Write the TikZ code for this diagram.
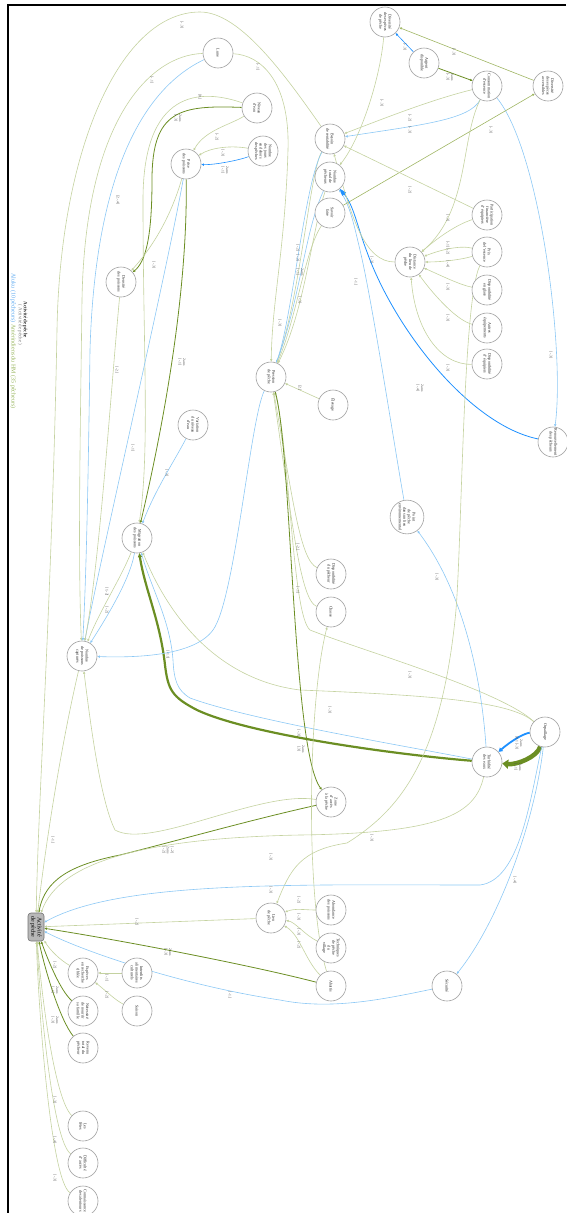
\documentclass[tikz,border=0pt]{standalone}
\usepackage{fontspec}
\setmainfont{Liberation Serif}
\usetikzlibrary{arrows.meta}
\definecolor{lgreen}{RGB}{196,210,160}
\definecolor{mgreen}{RGB}{160,182,100}
\definecolor{dgreen}{RGB}{107,142,35}
\definecolor{lblue}{RGB}{140,200,245}
\definecolor{bblue}{RGB}{30,144,255}
\definecolor{ndgray}{RGB}{160,160,160}
\definecolor{legblue}{RGB}{95,170,240}
\definecolor{leggreen}{RGB}{150,180,90}
\pgfdeclarelayer{bg}
\pgfsetlayers{bg,main}
\tikzset{
 nd/.style={circle,draw=ndgray,line width=0.6pt,fill=white,minimum size=30pt,inner sep=0.6pt,align=center,rotate=-90,font=\fontsize{4.1}{4.6}\selectfont,text=black!85},
 lbl/.style={rotate=-90,font=\fontsize{3.7}{4.1}\selectfont,text=black!70,align=center,inner sep=0pt},
 arr/.style={-{Triangle[length=2.6pt,width=2.2pt]}},
 lg/.style={arr,draw=lgreen,line width=0.6pt},
 mg/.style={arr,draw=mgreen,line width=0.6pt},
 dg/.style={arr,draw=dgreen,line width=0.8pt},
 lb/.style={arr,draw=lblue,line width=0.6pt},
 bb/.style={arr,draw=bblue,line width=0.8pt},
}
\begin{document}
\begin{tikzpicture}[x=1pt,y=-1pt]
\useasboundingbox (0,0) rectangle (566,1213);
\draw[line width=1.3pt] (566,5) -- (8,5) -- (8,1213);
% legend
\node[rotate=-90,font=\fontsize{5}{6}\selectfont\bfseries,text=black!80,inner sep=0pt] (lg1) at (25,320) {Activité de pêche};
\node[rotate=-90,font=\fontsize{5}{6}\selectfont,text=black!50,inner sep=0pt] (lg2) at (20,325) {( Activité de pêche )};
\node[rotate=-90,font=\fontsize{6}{7}\selectfont,inner sep=0pt] (lg3) at (13,341) {\textcolor{legblue}{Aluku (10 pêcheurs)}\ \textcolor{leggreen}{Amérindiens du HM (35 pêcheurs)}};
% nodes
\node[nd] (lune) at (218,53) {Lune};
\node[nd] (niveau) at (257,108) {Niveau\\d'eau};
\node[nd] (jours) at (263,151) {Nombre\\des jours\\en dehors\\des pêches};
\node[nd] (prise) at (186,164) {Prise\\des poissons};
\node[nd] (densite) at (121,282) {Densité\\des poissons};
\node[nd] (pression) at (271,377) {Pression\\de pêche};
\node[nd] (variation) at (193,425) {Variation\\du niveau\\d'eau};
\node[nd] (migration) at (137,538) {Migration\\des poissons};
\node[nd] (capt) at (82,656) {Nombre\\de poissons\\capturés};
\node[nd] (divpeche) at (385,22) {Diversité\\des espèces\\de pêche};
\node[nd] (argent) at (424,63) {Argent\\disponible};
\node[nd] (conso) at (487,86) {Consommation\\d'essence};
\node[nd] (divacc) at (548,86) {Diversité\\des espèces\\accessibles};
\node[nd] (besoin) at (330,139) {Besoin\\de rentabilité};
\node[nd] (total) at (330,177) {Nombre\\total de\\pêcheurs};
\node[nd] (savoir) at (330,213) {Savoir\\faire};
\node[nd] (partic) at (487,215) {Participation\\financière\\d'équipiers};
\node[nd] (prix) at (487,252) {Prix\\de l'essence};
\node[nd] (distance) at (410,262) {Distance\\du lieu de\\pêche};
\node[nd] (glace) at (487,290) {Disponibilité\\en glace};
\node[nd] (autres) at (487,328) {Autres\\équipements};
\node[nd] (dispequip) at (487,364) {Disponibilité\\d'équipiers};
\node[nd] (elevage) at (333,405) {Élevage};
\node[nd] (renouv) at (553,442) {Renouvellement\\des pêcheurs};
\node[nd] (point) at (407,517) {Point\\de pêche\\dans un lieu\\environnemental};
\node[nd] (dispo) at (331,574) {Disponibilité\\du pêcheur};
\node[nd] (chasse) at (331,612) {Chasse};
\node[nd] (orpa) at (545,732) {Orpaillage};
\node[nd] (turb) at (487,762) {Turbidité\\des eaux};
\node[nd] (zone) at (331,802) {Zone\\d'accès\\à la pêche};
\node[rotate=-90,rounded corners=3pt,draw=black!55,fill=black!28,line width=0.6pt,minimum width=28pt,minimum height=16pt,inner sep=0.5pt,align=center,font=\fontsize{6}{6.2}\selectfont] (act) at (36,927) {Activité\\de pêche};
\node[nd] (lieu) at (271,918) {Lieu\\de pêche};
\node[nd] (especes) at (83,973) {Espèces\\en recherche\\ciblée};
\node[nd] (interdits) at (137,973) {Interdits\\alimentaires\\culturels};
\node[nd] (saison) at (137,1011) {Saison};
\node[nd] (necess) at (83,1011) {Nécessité\\de nourrir\\sa famille};
\node[nd] (revenu) at (83,1048) {Revenu\\total du\\pêcheur};
\node[nd] (fetes) at (83,1126) {Les\\fêtes};
\node[nd] (diffic) at (83,1163) {Difficulté\\d'accès};
\node[nd] (connais) at (83,1201) {Connaissance\\des alentours};
\node[nd] (abond) at (331,910) {Abondance\\des poissons};
\node[nd] (tech) at (331,948) {Techniques\\de pêche\\du\\village};
\node[nd] (abattis) at (331,986) {Abattis};
\node[nd] (secur) at (447,986) {Sécurité};
% edges
\begin{pgfonlayer}{bg}
\draw[lg] (besoin) .. controls (285,75) and (240,12) .. (200,12) .. controls (120,12) and (60,150) .. (57,330) .. controls (52,600) and (38,800) .. (act);
\draw[lg] (lune) .. controls (150,55) and (85,120) .. (82,300) .. controls (80,450) and (78,560) .. (capt);
\draw[lb] (lune) .. controls (140,90) and (95,180) .. (90,350) .. controls (88,500) and (86,580) .. (capt);
\draw[lg] (lune) .. controls (260,55) and (290,80) .. (288,150) .. controls (285,250) and (272,300) .. (pression);
\draw[lg] (niveau) .. controls (200,88) and (143,90) .. (143,200) .. controls (143,350) and (150,450) .. (migration);
\draw[dg] (niveau) .. controls (180,105) and (152,110) .. (152,180) .. controls (152,240) and (145,262) .. (densite);
\draw[lg] (niveau) .. controls (230,125) and (205,130) .. (prise);
\draw[lg] (jours) .. controls (230,145) and (210,148) .. (prise);
\draw[bb,line width=0.6pt] (jours) .. controls (240,160) and (215,165) .. (prise);
\draw[lg] (prise) .. controls (170,220) and (150,250) .. (densite);
\draw[dg] (prise) .. controls (188,300) and (160,440) .. (migration);
\draw[lb] (prise) .. controls (165,280) and (100,560) .. (capt);
\draw[lg] (densite) .. controls (110,400) and (100,560) .. (capt);
\draw[lb] (variation) .. controls (175,460) and (155,490) .. (migration);
\draw[lg] (migration) .. controls (120,580) and (100,610) .. (capt);
\draw[lb] (migration) .. controls (130,580) and (105,620) .. (capt);
\draw[dg,line width=2.2pt,-{Triangle[length=4pt,width=4pt]}] (turb) .. controls (400,755) and (250,735) .. (197,710) .. controls (172,697) and (168,690) .. (165,665) .. controls (160,620) and (145,590) .. (migration);
\draw[lb] (turb) .. controls (400,745) and (250,720) .. (190,698) .. controls (177,690) and (174,680) .. (173,660) .. controls (170,620) and (152,590) .. (migration);
\draw[bb,line width=1.8pt,-{Triangle[length=4pt,width=4.5pt]}] (orpa) .. controls (525,733) and (512,740) .. (turb);
\draw[dg,line width=4.5pt,-{Triangle[length=6pt,width=9pt]}] (orpa) .. controls (537,757) and (517,765) .. (turb);
\draw[lg] (orpa) .. controls (510,700) and (420,695) .. (300,690) .. controls (220,680) and (170,620) .. (migration);
\draw[lg] (orpa) .. controls (500,690) and (360,650) .. (310,630) .. controls (292,615) and (290,450) .. (pression);
\draw[lb] (turb) .. controls (483,700) and (470,600) .. (point);
\draw[lb] (point) .. controls (395,450) and (372,300) .. (360,250) .. controls (354,225) and (350,205) .. (total);
\draw[bb,-{Triangle[length=7pt,width=5pt]}] (renouv) .. controls (470,425) and (395,330) .. (367,252) .. controls (357,226) and (354,206) .. (total);
\draw[lb] (conso) .. controls (540,150) and (565,350) .. (renouv);
\draw[bb,line width=0.6pt] (argent) -- (divpeche);
\draw[dg] (argent) -- (conso);
\draw[mg] (divacc) -- (divpeche);
\draw[mg] (savoir) -- (divacc);
\draw[lg] (conso) .. controls (430,100) and (380,120) .. (besoin);
\draw[lb] (conso) .. controls (470,120) and (420,125) .. (besoin);
\draw[lg] (partic) -- (besoin);
\draw[lg] (divpeche) .. controls (380,80) and (360,140) .. (total);
\draw[lg] (conso) .. controls (460,140) and (470,210) .. (distance);
\draw[lg] (partic) .. controls (455,225) and (435,240) .. (distance);
\draw[lg] (prix) .. controls (460,245) and (440,250) .. (distance);
\draw[lg] (prix) .. controls (460,260) and (440,262) .. (distance);
\draw[lg] (glace) .. controls (460,285) and (440,275) .. (distance);
\draw[lg] (autres) .. controls (455,320) and (430,290) .. (distance);
\draw[lg] (dispequip) .. controls (440,365) and (415,330) .. (distance);
\draw[lg] (distance) .. controls (365,262) and (352,220) .. (besoin);
\draw[lg] (besoin) .. controls (310,170) and (300,300) .. (pression);
\draw[lb] (besoin) .. controls (305,180) and (292,320) .. (pression);
\draw[lb] (total) .. controls (305,230) and (300,300) .. (pression);
\draw[lg] (total) .. controls (312,230) and (305,310) .. (pression);
\draw[lg] (savoir) .. controls (305,250) and (296,320) .. (pression);
\draw[lg] (elevage) -- (pression);
\draw[lg] (dispo) .. controls (300,560) and (293,500) .. (pression);
\draw[lg] (chasse) .. controls (300,600) and (292,520) .. (pression);
\draw[lb] (pression) .. controls (250,420) and (235,600) .. (213,630) .. controls (195,655) and (140,658) .. (capt);
\draw[dg] (pression) .. controls (292,450) and (292,750) .. (zone);
\draw[dg] (zone) .. controls (250,820) and (180,840) .. (120,855) .. controls (70,865) and (45,880) .. (act);
\draw[lg] (turb) .. controls (475,815) and (440,833) .. (300,835) .. controls (150,838) and (60,860) .. (act);
\draw[lg] (zone) .. controls (260,790) and (150,850) .. (115,830) .. controls (100,800) and (90,720) .. (capt);
\draw[lg] (capt) .. controls (60,750) and (45,850) .. (act);
\draw[lg] (prix) .. controls (462,300) and (462,560) .. (455,620) .. controls (440,760) and (400,810) .. (347,843) .. controls (300,850) and (290,870) .. (lieu);
\draw[lb] (orpa) .. controls (530,800) and (520,880) .. (480,885) .. controls (300,885) and (120,880) .. (act);
\draw[lb] (orpa) .. controls (535,820) and (500,920) .. (secur);
\draw[lb] (secur) .. controls (380,1000) and (330,1010) .. (280,1000) .. controls (180,985) and (80,950) .. (act);
\draw[dg] (abattis) .. controls (250,965) and (120,940) .. (act);
\draw[lg] (lieu) -- (act);
\draw[lg] (abond) .. controls (305,910) and (295,908) .. (lieu);
\draw[lg] (tech) .. controls (305,935) and (295,922) .. (lieu);
\draw[lg] (abattis) .. controls (305,960) and (300,935) .. (lieu);
\draw[lg] (abattis) .. controls (305,900) and (308,700) .. (chasse);
\draw[lg] (especes) .. controls (60,960) and (50,950) .. (act);
\draw[dg] (necess) .. controls (60,990) and (48,960) .. (act);
\draw[dg] (revenu) .. controls (60,1020) and (45,970) .. (act);
\draw[lg] (fetes) .. controls (55,1100) and (42,1000) .. (act);
\draw[lg] (diffic) .. controls (52,1140) and (40,1000) .. (act);
\draw[lg] (connais) .. controls (50,1180) and (38,1000) .. (act);
\draw[lg] (interdits) -- (especes);
\draw[lg] (saison) .. controls (115,1000) and (105,990) .. (especes);
\end{pgfonlayer}
% labels
\node[lbl] (l1) at (182,25) {[-.3]};
\node[lbl] (l2) at (152,80) {[-.1]};
\node[lbl] (l3) at (118,200) {[2.-.4]};
\node[lbl] (l4) at (258,67) {[-.1]};
\node[lbl] (l5) at (200,97) {[0.]};
\node[lbl] (l6) at (178,118) {2 ans\\{}[-.3]};
\node[lbl] (l7) at (217,137) {[-.2]};
\node[lbl] (l8) at (223,153) {[-.3]};
\node[lbl] (l9) at (225,170) {2 ans\\{}[-.1]};
\node[lbl] (l10) at (154,265) {[-.3]};
\node[lbl] (l11) at (182,362) {2 ans\\{}[-.1]};
\node[lbl] (l12) at (133,448) {[-.1]};
\node[lbl] (l13) at (117,370) {[-2.]};
\node[lbl] (l14) at (167,473) {[-.3]};
\node[lbl] (l15) at (107,592) {[1.-2]};
\node[lbl] (l16) at (107,610) {[-.2]};
\node[lbl] (l17) at (168,655) {[-1.1]};
\node[lbl] (l18) at (299,733) {[-.3]};
\node[lbl] (l19) at (301,749) {2 ans\\{}[.3]};
\node[lbl] (l20) at (519,743) {2 ans\\{}[0.1 [-.3]};
\node[lbl] (l21) at (518,767) {2 ans\\{}[-.1]};
\node[lbl] (l22) at (330,710) {[-.3]};
\node[lbl] (l23) at (410,675) {[-.3]};
\node[lbl] (l24) at (437,577) {[-.3]};
\node[lbl] (l25) at (356,282) {[-1.]};
\node[lbl] (l26) at (420,388) {2 ans\\{}[-.4]};
\node[lbl] (l27) at (551,355) {[-.3]};
\node[lbl] (l28) at (405,47) {[-.3]};
\node[lbl] (l29) at (450,77) {2 ans\\{}[-.3]};
\node[lbl] (l30) at (454,52) {[-.3]};
\node[lbl] (l31) at (491,130) {[-.3]};
\node[lbl] (l32) at (410,118) {[-.2]};
\node[lbl] (l33) at (410,130) {[-.3]};
\node[lbl] (l34) at (410,190) {[-.2]};
\node[lbl] (l35) at (382,103) {[-.3]};
\node[lbl] (l36) at (448,218) {[-.3]};
\node[lbl] (l37) at (448,248) {[-.1] [-.2]};
\node[lbl] (l38) at (448,264) {[-.4]};
\node[lbl] (l39) at (448,287) {[-.3]};
\node[lbl] (l40) at (448,318) {[-.3]};
\node[lbl] (l41) at (448,368) {[-.3]};
\node[lbl] (l42) at (372,260) {[-.3]};
\node[lbl] (l43) at (298,248) {[-.2]};
\node[lbl] (l44) at (298,258) {[-.2]};
\node[lbl] (l45) at (300,272) {2 ans\\{}[-.1]};
\node[lbl] (l46) at (300,300) {[-.3]};
\node[lbl] (l47) at (280,323) {[-.3]};
\node[lbl] (l48) at (300,388) {[2.]};
\node[lbl] (l49) at (298,547) {[-2.]};
\node[lbl] (l50) at (298,590) {[-.1]};
\node[lbl] (l51) at (168,850) {[-.2]\\2 ans\\{}[-.2]};
\node[lbl] (l52) at (271,857) {[-.3]};
\node[lbl] (l53) at (53,840) {[-1.]};
\node[lbl] (l54) at (372,838) {[-.3]};
\node[lbl] (l55) at (271,890) {[-.3]};
\node[lbl] (l56) at (515,880) {[-.4]};
\node[lbl] (l57) at (230,995) {[-1.]};
\node[lbl] (l58) at (168,952) {2 ans\\{}[-.3]};
\node[lbl] (l59) at (137,922) {[-.2]};
\node[lbl] (l60) at (299,900) {[-.2]};
\node[lbl] (l61) at (299,917) {[-.3]};
\node[lbl] (l62) at (299,932) {[-.3]};
\node[lbl] (l63) at (299,945) {[-.2]};
\node[lbl] (l64) at (55,965) {[-.2]};
\node[lbl] (l65) at (55,990) {2 ans\\{}[-.1]};
\node[lbl] (l66) at (55,1020) {2 ans\\{}[-.3]};
\node[lbl] (l67) at (55,1100) {[-.3]};
\node[lbl] (l68) at (55,1140) {[-.4]};
\node[lbl] (l69) at (55,1178) {[-.3]};
\node[lbl] (l70) at (107,978) {[-.1]};
\node[lbl] (l71) at (107,995) {[-.2]};
\end{tikzpicture}
\end{document}
